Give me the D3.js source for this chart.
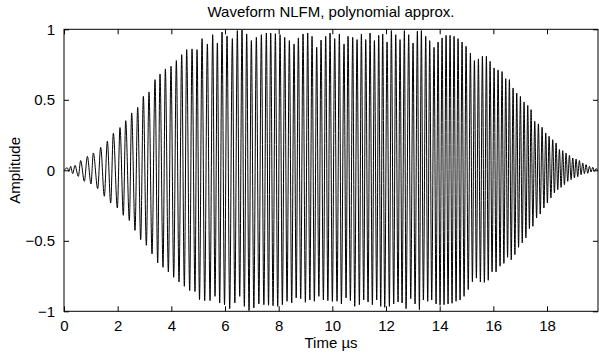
<!DOCTYPE html>
<html>
<head>
<meta charset="utf-8">
<script src="https://cdn.jsdelivr.net/npm/d3@7"></script>
<style>
  body { margin: 0; background: #fff; }
  svg { display: block; font-family: "Liberation Sans", Arial, Helvetica, sans-serif; }
</style>
</head>
<body>
<div id="chart"></div>
<script>
// Waveform extrema (time in µs, amplitude)
const upperTimes = [
  0.124, 0.249, 0.410, 0.621, 0.870, 1.093, 1.367, 1.615, 1.839, 2.087, 2.299, 2.522,
  2.746, 2.957, 3.168, 3.392, 3.578, 3.777, 3.988, 4.187, 4.386, 4.572, 4.771, 4.957,
  5.144, 5.342, 5.541, 5.715, 5.889, 6.075, 6.274, 6.460, 6.634, 6.808, 6.982, 7.168,
  7.355, 7.541, 7.703, 7.877, 8.051, 8.225, 8.398, 8.573, 8.734, 8.908, 9.082, 9.243,
  9.417, 9.579, 9.753, 9.914,
  10.088, 10.262, 10.436, 10.585, 10.759, 10.921, 11.082, 11.244, 11.405, 11.567, 11.728, 11.877,
  12.039, 12.200, 12.362, 12.523, 12.685, 12.846, 13.008, 13.169, 13.318, 13.480, 13.629, 13.790,
  13.940, 14.089, 14.238, 14.387, 14.536, 14.685, 14.834, 14.983,
  15.145, 15.294, 15.443, 15.592, 15.741, 15.878, 16.027, 16.176, 16.325, 16.462, 16.598, 16.735,
  16.872, 17.008, 17.145, 17.282, 17.406, 17.543, 17.679, 17.816, 17.953, 18.077, 18.213, 18.338,
  18.462, 18.586, 18.710, 18.835, 18.959, 19.083, 19.207, 19.332, 19.456, 19.580, 19.704, 19.829
];
const upperValues = [
  0.017, 0.028, 0.035, 0.069, 0.099, 0.123, 0.163, 0.206, 0.262, 0.303, 0.352, 0.407,
  0.447, 0.525, 0.556, 0.643, 0.683, 0.719, 0.738, 0.778, 0.820, 0.856, 0.861, 0.856,
  0.934, 0.896, 0.962, 0.903, 0.981, 0.953, 0.934, 0.991, 0.995, 0.967, 0.920, 0.943,
  0.962, 0.974, 0.974, 0.969, 0.962, 0.943, 0.920, 0.896, 0.939, 0.967, 0.974, 0.950,
  0.872, 0.924, 0.950, 0.974,
  0.934, 0.967, 0.896, 0.950, 0.943, 0.927, 0.967, 0.927, 0.974, 0.920, 0.957, 0.967,
  0.910, 0.991, 0.962, 0.927, 0.991, 0.962, 0.903, 0.986, 0.991, 0.950, 0.920, 0.872,
  0.910, 0.939, 0.957, 0.957, 0.950, 0.934, 0.910, 0.879,
  0.832, 0.778, 0.790, 0.809, 0.809, 0.773, 0.726, 0.712, 0.700, 0.650, 0.643, 0.584,
  0.548, 0.525, 0.485, 0.460, 0.430, 0.348, 0.329, 0.305, 0.265, 0.241, 0.217, 0.194,
  0.147, 0.139, 0.123, 0.106, 0.087, 0.080, 0.069, 0.052, 0.040, 0.028, 0.021, 0.012
];
const lowerTimes = [
  0, 0.186,
  0.323, 0.534, 0.758, 1.006, 1.255, 1.503, 1.739, 1.988, 2.211, 2.435, 2.646, 2.858,
  3.069, 3.280, 3.491, 3.690, 3.889, 4.088, 4.286, 4.485, 4.684, 4.883,
  5.050, 5.243, 5.442, 5.628, 5.802, 5.982, 6.175, 6.367, 6.548, 6.721, 6.895, 7.075,
  7.262, 7.448, 7.622, 7.790, 7.964, 8.138, 8.312, 8.486, 8.653, 8.821, 8.995, 9.162,
  9.330, 9.498, 9.666, 9.833, 10.001,
  10.175, 10.337, 10.511, 10.672, 10.834, 11.008, 11.169, 11.331, 11.492, 11.654, 11.803, 11.952,
  12.126, 12.287, 12.449, 12.598, 12.747, 12.921, 13.082, 13.244, 13.393, 13.554, 13.703, 13.865,
  14.014, 14.163, 14.312, 14.461, 14.610, 14.760, 14.909,
  15.064, 15.219, 15.368, 15.517, 15.666, 15.810, 15.952, 16.101, 16.250, 16.393, 16.530, 16.667,
  16.803, 16.940, 17.077, 17.213, 17.344, 17.474, 17.611, 17.748, 17.884, 18.014, 18.145, 18.275,
  18.400, 18.524, 18.648, 18.772, 18.897, 19.021, 19.145, 19.269, 19.393, 19.518, 19.642, 19.766,
  19.884
];
const lowerValues = [
  0, -0.008,
  -0.024, -0.043, -0.078, -0.097, -0.130, -0.184, -0.232, -0.267, -0.319, -0.357, -0.426, -0.492,
  -0.532, -0.593, -0.657, -0.688, -0.721, -0.759, -0.792, -0.823, -0.853, -0.860,
  -0.917, -0.924, -0.924, -0.894, -0.941, -0.953, -0.981, -0.941, -0.894, -0.965, -0.995, -0.976,
  -0.948, -0.953, -0.957, -0.960, -0.965, -0.953, -0.929, -0.941, -0.905, -0.910, -0.936, -0.920,
  -0.929, -0.894, -0.920, -0.924, -0.930,
  -0.929, -0.948, -0.905, -0.924, -0.965, -0.953, -0.920, -0.934, -0.953, -0.920, -0.965, -0.972,
  -0.965, -0.948, -0.934, -0.941, -0.981, -0.910, -0.948, -0.988, -0.920, -0.929, -0.920, -0.948,
  -0.957, -0.953, -0.948, -0.943, -0.929, -0.920, -0.894,
  -0.846, -0.790, -0.765, -0.792, -0.795, -0.780, -0.720, -0.721, -0.680, -0.660, -0.617, -0.635,
  -0.598, -0.546, -0.515, -0.480, -0.414, -0.397, -0.338, -0.310, -0.267, -0.232, -0.196, -0.161,
  -0.137, -0.121, -0.102, -0.078, -0.066, -0.054, -0.045, -0.031, -0.024, -0.021, -0.012, -0.007,
  -0.002
];

const xTicks = [0, 2, 4, 6, 8, 10, 12, 14, 16, 18];
const yTicks = [-1, -0.5, 0, 0.5, 1];
const yTickLabels = ['\u22121', '\u22120.5', '0', '0.5', '1'];

const titleText = 'Waveform NLFM, polynomial approx.';
const xLabel = 'Time \u00b5s';
const yLabel = 'Amplitude';

const width = 599, height = 354;
const margin = { top: 29.3, right: 1, bottom: 42.7, left: 64 };
const innerW = width - margin.left - margin.right;
const innerH = height - margin.top - margin.bottom;

const svg = d3.select('#chart').append('svg')
  .attr('width', width)
  .attr('height', height);

const g = svg.append('g')
  .attr('transform', 'translate(' + margin.left + ',' + margin.top + ')');

// Scales
const x = d3.scaleLinear().domain([0, 19.9]).range([0, innerW]);
const y = d3.scaleLinear().domain([-1, 1]).range([innerH, 0]);

// Merge extrema into one time-ordered series
const points = upperTimes.map((t, i) => ({ t: t, v: upperValues[i] }))
  .concat(lowerTimes.map((t, i) => ({ t: t, v: lowerValues[i] })))
  .sort((a, b) => a.t - b.t);

const line = d3.line()
  .x(d => x(d.t))
  .y(d => y(d.v))
  .curve(d3.curveMonotoneX);

g.append('path')
  .datum(points)
  .attr('fill', 'none')
  .attr('stroke', '#000')
  .attr('stroke-width', 1)
  .attr('d', line);

// Axes (MATLAB style: inward ticks on all four sides)
const tickLen = 5;
const styleAxis = sel => {
  sel.select('.domain').remove();
  sel.selectAll('line').attr('stroke', '#000');
  sel.selectAll('text').attr('fill', '#000').style('font-size', '15px');
};

g.append('g')
  .attr('transform', 'translate(0,' + innerH + ')')
  .call(d3.axisBottom(x).tickValues(xTicks).tickSizeInner(-tickLen).tickSizeOuter(0)
    .tickPadding(9).tickFormat(d3.format('d')))
  .call(styleAxis)
  .attr('font-family', null);

g.append('g')
  .call(d3.axisTop(x).tickValues(xTicks).tickSizeInner(-tickLen).tickSizeOuter(0).tickFormat(''))
  .call(styleAxis);

g.append('g')
  .call(d3.axisLeft(y).tickValues(yTicks).tickSizeInner(-tickLen).tickSizeOuter(0)
    .tickPadding(9).tickFormat((d, i) => yTickLabels[i]))
  .call(styleAxis)
  .attr('font-family', null);

g.append('g')
  .attr('transform', 'translate(' + innerW + ',0)')
  .call(d3.axisRight(y).tickValues(yTicks).tickSizeInner(-tickLen).tickSizeOuter(0).tickFormat(''))
  .call(styleAxis);

// Box
g.append('rect')
  .attr('x', 0)
  .attr('y', 0)
  .attr('width', innerW)
  .attr('height', innerH)
  .attr('fill', 'none')
  .attr('stroke', '#000')
  .attr('stroke-width', 1);

// Title
svg.append('text')
  .attr('x', margin.left + innerW / 2)
  .attr('y', 16.7)
  .attr('text-anchor', 'middle')
  .style('font-size', '15px')
  .text(titleText);

// X label
svg.append('text')
  .attr('x', margin.left + innerW / 2)
  .attr('y', 347.5)
  .attr('text-anchor', 'middle')
  .style('font-size', '15px')
  .text(xLabel);

// Y label
svg.append('text')
  .attr('transform', 'translate(20,' + (margin.top + innerH / 2) + ') rotate(-90)')
  .attr('text-anchor', 'middle')
  .style('font-size', '15px')
  .text(yLabel);
</script>
</body>
</html>
